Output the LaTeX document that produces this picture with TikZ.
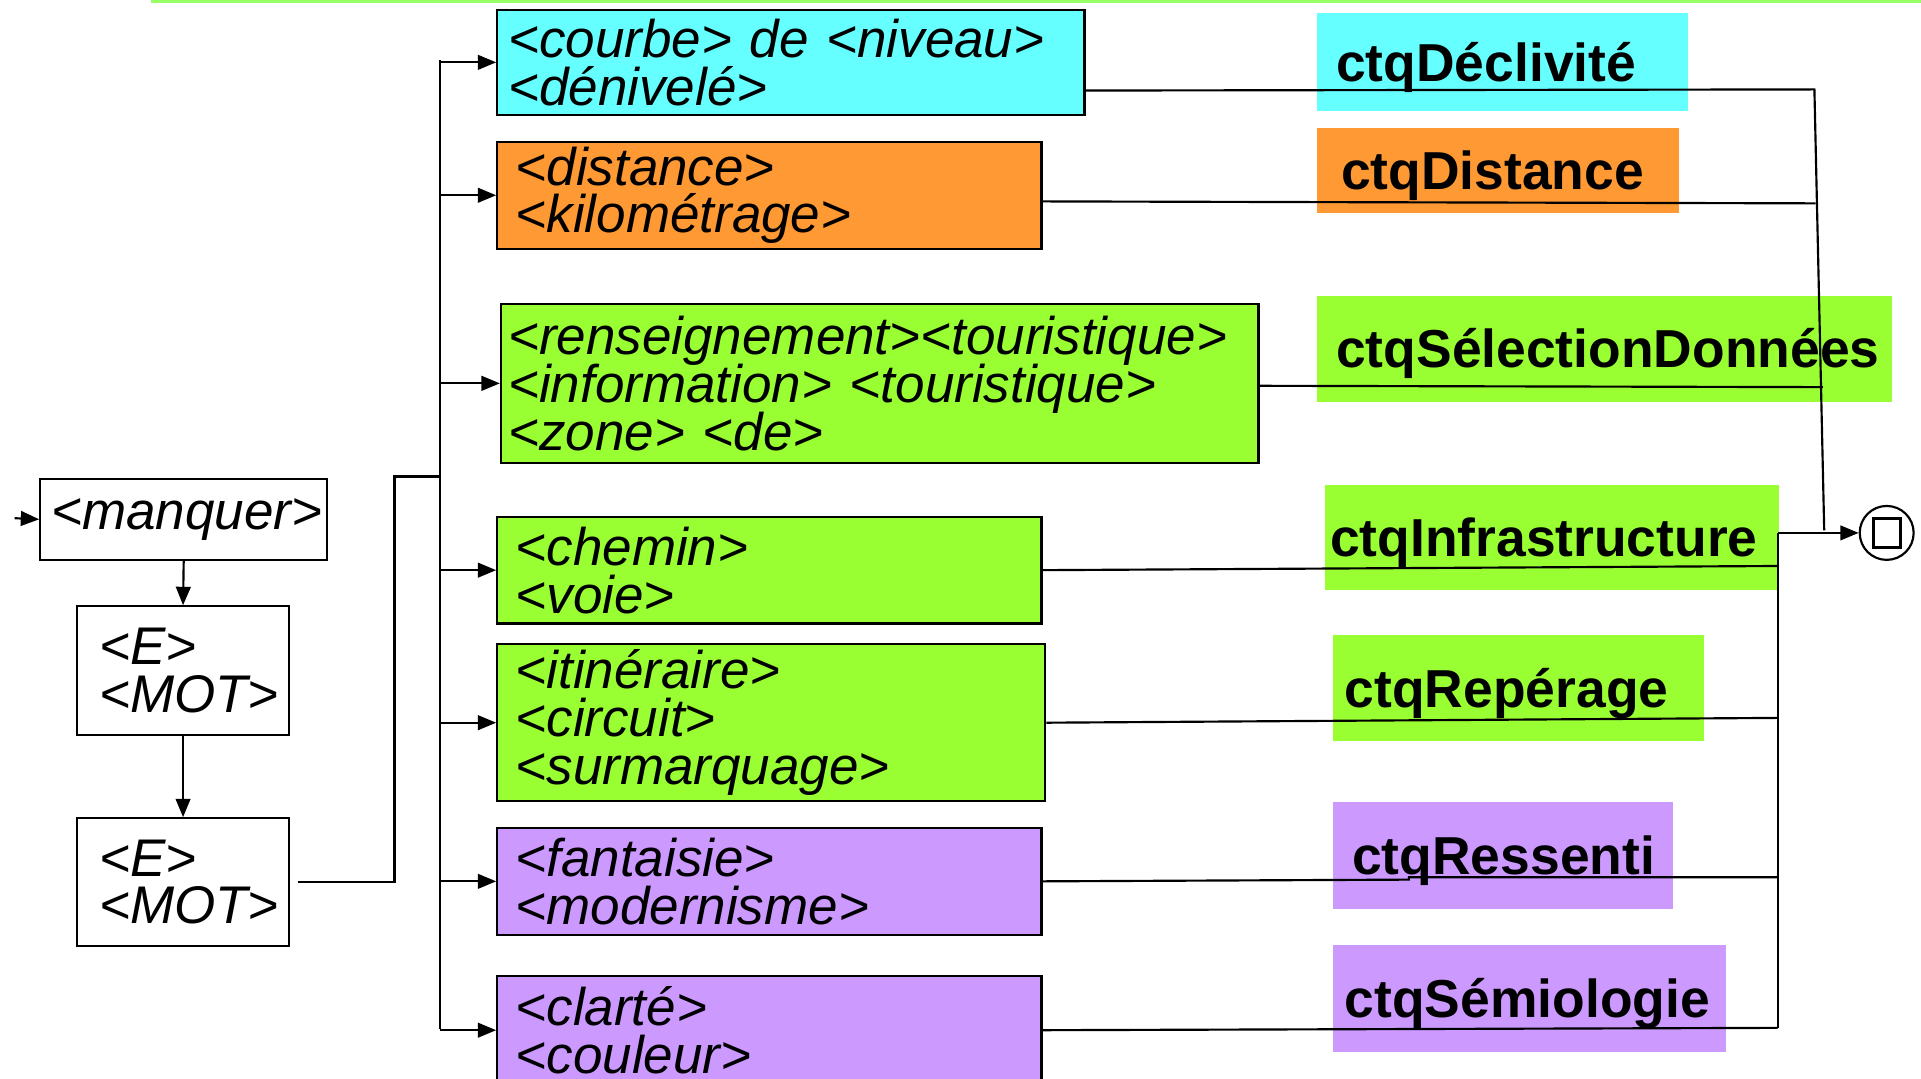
\documentclass[tikz,border=0pt]{standalone}
\usepackage{fontspec}
\setmainfont{Liberation Sans}
\usetikzlibrary{arrows.meta}
\definecolor{cyanbox}{HTML}{66FFFF}
\definecolor{orangebox}{HTML}{FF9933}
\definecolor{greenbox}{HTML}{99FF33}
\definecolor{mauvebox}{HTML}{CC99FF}
\definecolor{rulegreen}{HTML}{99FF66}
\newcommand{\motfont}{\fontsize{12.3}{11.1}\selectfont\lineskiplimit=-10pt\relax\itshape}
\tikzset{>={Triangle[length=1.5mm,width=1.2mm]},
  wire/.style={line width=0.5pt},
  motbox/.style={draw, line width=0.5pt, anchor=north west, align=left, inner ysep=0pt,
    font=\motfont},
  ctq/.style={anchor=north west, align=left, inner ysep=0pt, text height=0.36cm, text depth=0.05cm,
    font=\fontsize{12.4}{14}\selectfont\bfseries}}

\begin{document}
\begin{tikzpicture}[x=0.01cm, y=-0.01cm]
    \useasboundingbox (0,0) rectangle (1568,880);
    \clip (0,0) rectangle (1568,880);
    \draw[rulegreen, line width=0.025cm] (123,1) -- (1568,1);

    % left chain
    \node[motbox, minimum height=0.66cm, text width=2.16cm, inner xsep=0.09cm] (manquer) at (32,390) {<manquer>};
    \node[motbox, minimum height=1.05cm, text width=1.37cm, inner xsep=0.18cm] (mot1) at (62,494) {<E>\\<MOT>};
    \node[motbox, minimum height=1.04cm, text width=1.37cm, inner xsep=0.18cm] (mot2) at (62,667) {<E>\\<MOT>};

    % middle boxes
    \node[motbox, fill=cyanbox, minimum height=0.86cm, text width=4.61cm, inner xsep=0.09cm] (courbe) at (405,7) {<courbe> de <niveau>\\<dénivelé>};
    \node[motbox, fill=orangebox, minimum height=0.87cm, text width=4.14cm, inner xsep=0.15cm] (distance) at (405,115) {<distance>\\<kilométrage>};
    \node[motbox, fill=greenbox, minimum height=1.30cm, text width=6.06cm, inner xsep=0.06cm] (renseignement) at (408,247) {<renseignement><touristique>\\<information> <touristique>\\<zone> <de>};
    \node[motbox, fill=greenbox, minimum height=0.87cm, text width=4.14cm, inner xsep=0.15cm] (chemin) at (405,421) {<chemin>\\<voie>};
    \node[motbox, fill=greenbox, minimum height=1.28cm, text width=4.17cm, inner xsep=0.15cm] (itineraire) at (405,525) {<itinéraire>\\<circuit>\\<surmarquage>};
    \node[motbox, fill=mauvebox, minimum height=0.87cm, text width=4.14cm, inner xsep=0.15cm] (fantaisie) at (405,675) {<fantaisie>\\<modernisme>};
    \node[motbox, fill=mauvebox, minimum height=0.88cm, text width=4.14cm, inner xsep=0.15cm] (clarte) at (405,796) {<clarté>\\<couleur>};

    % labels
    \node[ctq, fill=cyanbox, minimum height=0.80cm, text width=2.71cm, inner xsep=0.16cm] (declivite) at (1074,10) {ctqDéclivité};
    \node[ctq, fill=orangebox, minimum height=0.69cm, text width=2.56cm, inner xsep=0.20cm] (ctqdist) at (1074,104) {ctqDistance};
    \node[ctq, fill=greenbox, minimum height=0.86cm, text width=4.37cm, inner xsep=0.16cm] (selection) at (1074,241) {ctqSélectionDonnées};
    \node[ctq, fill=greenbox, minimum height=0.86cm, text width=3.62cm, inner xsep=0.04cm] (infra) at (1081,395) {ctqInfrastructure};
    \node[ctq, fill=greenbox, minimum height=0.86cm, text width=2.83cm, inner xsep=0.10cm] (reperage) at (1087,518) {ctqRepérage};
    \node[ctq, fill=mauvebox, minimum height=0.87cm, text width=2.46cm, inner xsep=0.16cm] (ressenti) at (1087,654) {ctqRessenti};
    \node[ctq, fill=mauvebox, minimum height=0.87cm, text width=3.01cm, inner xsep=0.10cm] (semio) at (1087,771) {ctqSémiologie};

    % final state
    \node[draw, circle, line width=0.5pt, minimum size=0.44cm, inner sep=0pt] (fin) at (1540,435) {};
    \node[draw, line width=0.7pt, minimum width=0.22cm, minimum height=0.24cm, inner sep=0pt] (finbox) at (fin) {};

    % left wiring
    \coordinate (start) at (12,423);
    \coordinate (bus) at (359,49);
    \coordinate (busend) at (359,840);
    \coordinate (fork) at (322,389);
    \draw[wire,->] (start) -- (manquer.west);
    \draw[wire,->] (manquer.south) -- (mot1.north);
    \draw[wire,->] (mot1.south) -- (mot2.north);
    \draw[wire] ([xshift=0.06cm]mot2.east) -| (fork) -- (fork -| bus);
    \draw[wire] (bus) -- (busend);
    \draw[wire,->] (courbe.west -| bus) -- (courbe.west);
    \draw[wire,->] (distance.west -| bus) -- (distance.west);
    \draw[wire,->] (renseignement.west -| bus) -- (renseignement.west);
    \draw[wire,->] (chemin.west -| bus) -- (chemin.west);
    \draw[wire,->] (itineraire.west -| bus) -- (itineraire.west);
    \draw[wire,->] (fantaisie.west -| bus) -- (fantaisie.west);
    \draw[wire,->] (clarte.west -| bus) -- (clarte.west);

    % right wiring
    \coordinate (topjoin) at (1481,73);
    \coordinate (botjoin) at (1489,433);
    \coordinate (distjoin) at (1482,166);
    \coordinate (selecjoin) at (1488,316);
    \coordinate (outjoin) at (1451,435);
    \coordinate (infrajoin) at (1451,462);
    \coordinate (repjoin) at (1451,586);
    \coordinate (step) at (1150,718);
    \coordinate (ressjoin) at (1451,716);
    \coordinate (semjoin) at (1451,839);
    \draw[wire] ([yshift=-0.23cm]courbe.east) -- (topjoin) -- (botjoin);
    \draw[wire] ([yshift=-0.05cm]distance.east) -- (distjoin);
    \draw[wire] ([yshift=-0.02cm]renseignement.east) -- (selecjoin);
    \draw[wire] (chemin.east) -- (infrajoin);
    \draw[wire] (itineraire.east) -- (repjoin);
    \draw[wire] (fantaisie.east) -- (step) -- ++(0,-2) -- (ressjoin);
    \draw[wire] (clarte.east) -- (semjoin);
    \draw[wire] (outjoin) -- (semjoin);
    \draw[wire,->] (outjoin) -- (fin.west);
\end{tikzpicture}
\end{document}
